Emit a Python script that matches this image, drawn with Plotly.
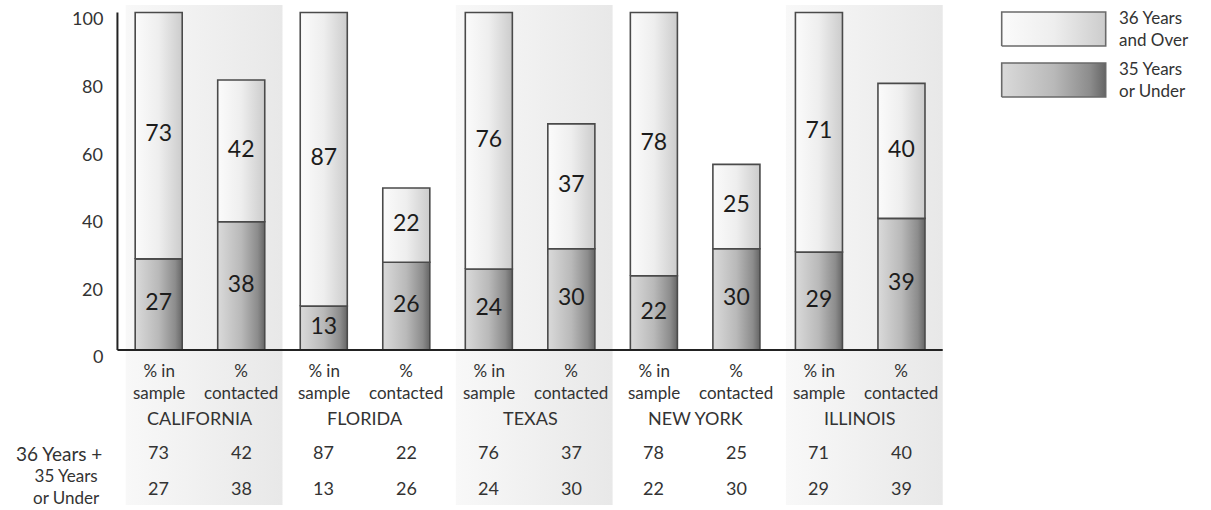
import plotly.graph_objects as go

# ---- data -------------------------------------------------------------
states = ["CALIFORNIA", "FLORIDA", "TEXAS", "NEW YORK", "ILLINOIS"]
measures = ["% in<br>sample", "%<br>contacted"]
over_36 = [73, 42, 87, 22, 76, 37, 78, 25, 71, 40]
under_35 = [27, 38, 13, 26, 24, 30, 22, 30, 29, 39]
series_names = ["36 Years<br>and Over", "35 Years<br>or Under"]
row_labels = ["36 Years +", "35 Years<br>or Under"]
y_ticks = [0, 20, 40, 60, 80, 100]

# ---- styling / geometry ----------------------------------------------
W, H = 1211, 510
FONT = "Lato"
TXT = "#333333"
OUTLINE = "#4a4a4a"
UPPER_SCALE = [[0, "#fbfbfb"], [0.5, "#eeeeee"], [1, "#cccccc"]]
LOWER_SCALE = [[0, "#dadada"], [0.5, "#b9b9b9"], [0.85, "#8c8c8c"], [1, "#666666"]]
BAND_SCALE = [[0, "#f8f8f8"], [1, "#e8e8e8"]]

UNIT_X = 82.53          # px between neighbouring bars
BAR0_X = 158.7          # px centre of first bar
BASE_Y = 350            # px of the zero line
PX_PER_PCT = 3.375
HALF_W = 0.285          # half bar width in x units

x_lo, x_hi = -0.55, 9.55
y_lo = (BASE_Y - 505) / PX_PER_PCT
y_hi = (BASE_Y - 5) / PX_PER_PCT


def px_x(v):
    return BAR0_X + v * UNIT_X


def paper_y(py):
    return 1 - py / H


fig = go.Figure()

# alternating shaded bands behind California, Texas and Illinois
for g in range(0, len(states), 2):
    left, right = 2 * g - 0.4, 2 * g + 1.5
    fig.add_trace(go.Scatter(
        x=[left, right, right, left, left],
        y=[y_lo, y_lo, y_hi, y_hi, y_lo],
        mode="lines", fill="toself", line=dict(width=0),
        fillgradient=dict(type="horizontal", colorscale=BAND_SCALE),
        hoverinfo="skip", showlegend=False,
    ))

positions = list(range(len(over_36)))

# stacked bars: lower (35 or under) and upper (36 and over) segments
for i in positions:
    lo, hi = under_35[i], over_36[i]
    for base, val, scale in ((0, lo, LOWER_SCALE), (lo, hi, UPPER_SCALE)):
        xl, xr = i - HALF_W, i + HALF_W
        fig.add_trace(go.Scatter(
            x=[xl, xr, xr, xl, xl],
            y=[base, base, base + val, base + val, base],
            mode="lines", fill="toself",
            line=dict(color=OUTLINE, width=1.6),
            fillgradient=dict(type="horizontal", colorscale=scale),
            hoverinfo="skip", showlegend=False,
        ))

# value labels inside the segments
fig.add_trace(go.Scatter(
    x=positions + positions,
    y=[v / 2 for v in under_35] + [u + o / 2 for u, o in zip(under_35, over_36)],
    text=[str(v) for v in under_35 + over_36],
    mode="text", textposition="middle center",
    textfont=dict(family=FONT, size=23, color="#1c1c1c"),
    hoverinfo="skip", showlegend=False,
))

# legend swatches on their own small axes
for k, scale in enumerate((UPPER_SCALE, LOWER_SCALE)):
    top = 85 - k * 51
    fig.add_trace(go.Scatter(
        x=[0, 104, 104, 0, 0], y=[top - 34, top - 34, top, top, top - 34],
        mode="lines", fill="toself",
        line=dict(color="#6a6a6a", width=1.6),
        fillgradient=dict(type="horizontal", colorscale=scale),
        xaxis="x2", yaxis="y2", hoverinfo="skip", showlegend=False,
    ))

annotations = []


def add_text(text, x, xref, py, size, xanchor="center", yanchor="middle",
             align="center", color=TXT):
    annotations.append(dict(
        text=text, x=x, xref=xref, y=paper_y(py), yref="paper",
        xanchor=xanchor, yanchor=yanchor, align=align, showarrow=False,
        borderpad=0, font=dict(family=FONT, size=size, color=color),
    ))


# y-axis tick labels, right-aligned next to the axis line
for t in y_ticks:
    add_text(str(t), 104 / W, "paper", BASE_Y - t * PX_PER_PCT + 6, 18, xanchor="right")

# category labels under each bar
for i in positions:
    add_text(measures[i % 2], i, "x", 381, 17)

# state names and the data table
for g, name in enumerate(states):
    add_text(name, 2 * g + 0.5, "x", 418, 18)
for i in positions:
    add_text(str(over_36[i]), i, "x", 452, 18)
    add_text(str(under_35[i]), i, "x", 488, 18)

# table row labels
add_text(row_labels[0], 103 / W, "paper", 453, 19, xanchor="right")
add_text(row_labels[1], 101 / W, "paper", 509, 17, xanchor="right", yanchor="bottom")

# legend text
for k, name in enumerate(series_names):
    add_text(name, 1118 / W, "paper", 28 + k * 51, 17, xanchor="left", align="left")

shapes = [
    dict(type="line", xref="x", yref="y", x0=-0.5, x1=-0.5, y0=0, y1=100,
         line=dict(color="#222222", width=2)),
    dict(type="line", xref="x", yref="y", x0=-0.5, x1=9.5, y0=0, y1=0,
         line=dict(color="#222222", width=2)),
]

fig.update_layout(
    width=W, height=H,
    margin=dict(l=0, r=0, t=0, b=0),
    paper_bgcolor="white", plot_bgcolor="rgba(0,0,0,0)",
    showlegend=False,
    xaxis=dict(domain=[px_x(x_lo) / W, px_x(x_hi) / W], range=[x_lo, x_hi],
               visible=False),
    yaxis=dict(domain=[paper_y(505), paper_y(5)], range=[y_lo, y_hi],
               visible=False),
    xaxis2=dict(domain=[999.7 / W, 1107.7 / W], range=[-2, 106], visible=False,
                anchor="y2"),
    yaxis2=dict(domain=[paper_y(99), paper_y(10)], range=[-2, 87], visible=False,
                anchor="x2"),
    annotations=annotations,
    shapes=shapes,
)

fig.write_html("out.html")
